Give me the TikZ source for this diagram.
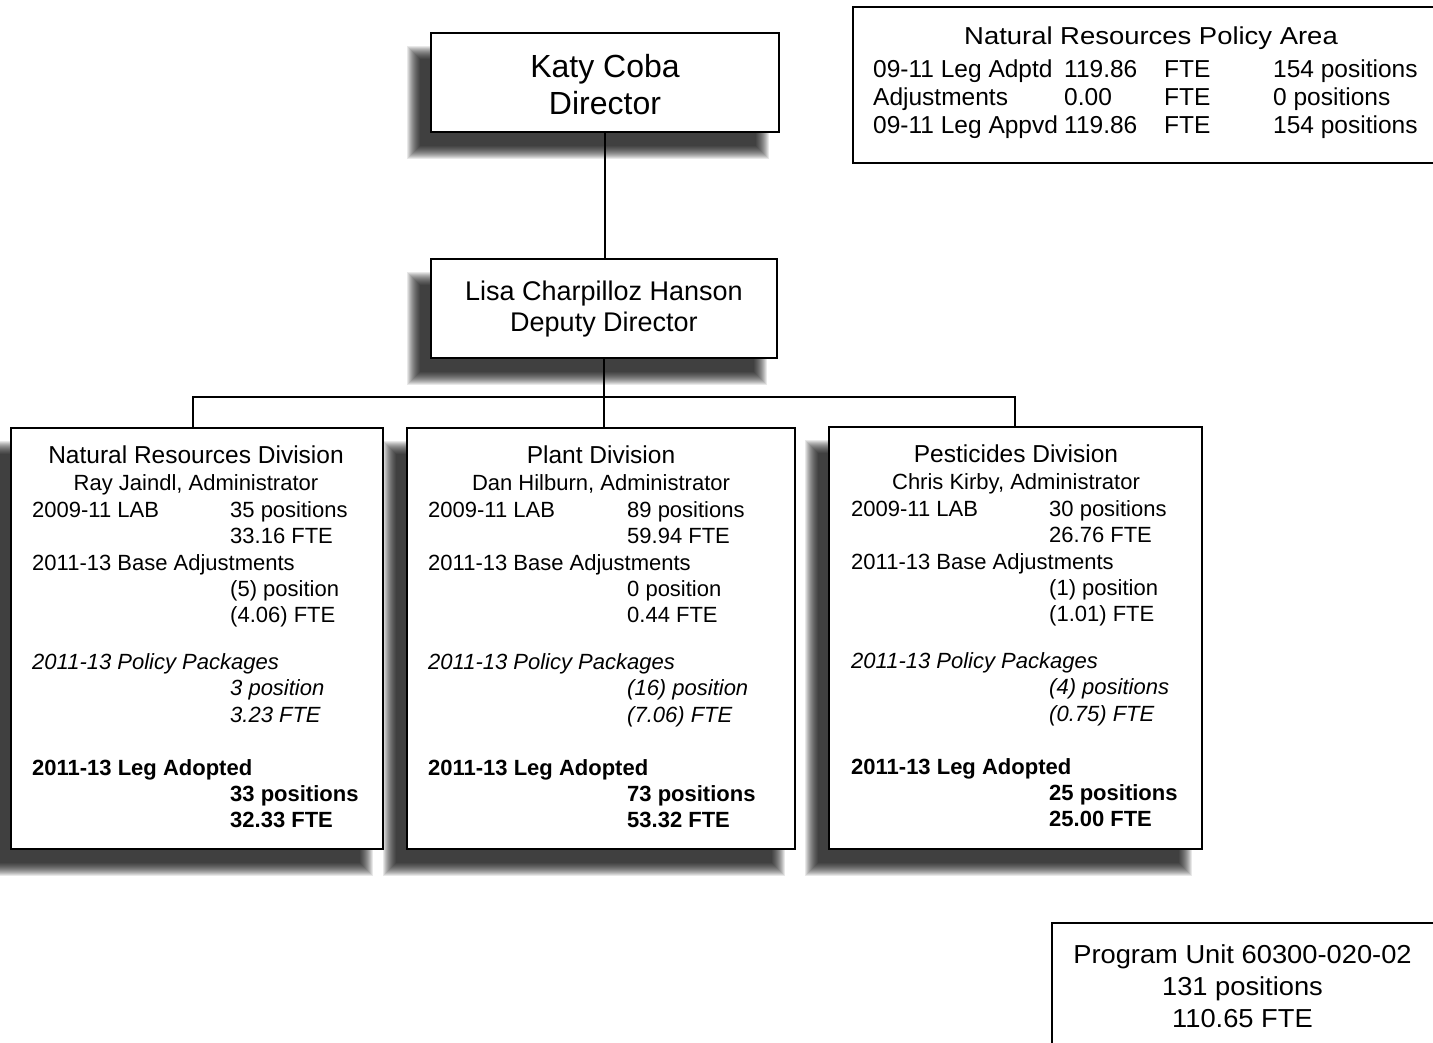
\documentclass[tikz,border=0pt]{standalone}
\usepackage{fontspec}
\setmainfont{Liberation Sans}
\usepackage{graphicx}
\newcommand\fsz[1]{\fontsize{#1pt}{#1pt}\selectfont}
\newcommand\hx[2]{\scalebox{#1}[1]{#2}}
\tikzset{
  orgbox/.style={draw=black, line width=1.8pt, fill=white, rectangle, inner sep=0pt},
  lt/.style={inner sep=0pt, anchor=base west, font=\fsz{22}},
  ct/.style={inner sep=0pt, anchor=base, font=\fsz{22}},
  wire/.style={line width=1.8pt, black},
}
\newcommand\shbox[5]{%
  \foreach \i in {0,...,13}{\fill[black,opacity=0.09] ({#2-24+\i},{#3+13+\i}) rectangle ({#4-10-\i},{#5+27-\i});}
  \node[orgbox, minimum width={(#4-#2)*1pt}, minimum height={(#5-#3)*1pt}] (#1) at ({(#2+#4)/2},{(#3+#5)/2}) {};
}
\begin{document}
\begin{tikzpicture}[x=1pt,y=-1pt]
\useasboundingbox (0,0) rectangle (1433,1042);
\clip (0,0) rectangle (1433,1042);
\fill[white] (0,0) rectangle (1433,1042);

\shbox{dir}{431}{33}{779}{132}
\shbox{dep}{431}{259}{777}{358}
\shbox{nrd}{11}{428}{383}{849}
\shbox{pla}{407}{428}{795}{849}
\shbox{pes}{829}{427}{1202}{849}

% Director
\node[ct, font=\fsz{32}] (dir1) at (605,77) {Katy Coba};
\node[ct, font=\fsz{32}] (dir2) at (605,114) {Director};
% Deputy
\node[ct, font=\fsz{27}] (dep1) at (604,300) {Lisa Charpilloz Hanson};
\node[ct, font=\fsz{27}] (dep2) at (604,331) {Deputy Director};

% connectors
\coordinate (jL) at (193,397);
\coordinate (jR) at (1015,397);
\draw[wire] (dir.south) -- (dir.south |- dep.north);
\draw[wire] (dep.south) -- (dep.south |- jL);
\draw[wire] (jL |- nrd.north) -- (jL) -- (jR) -- (jR |- pes.north);
\draw[wire] (dep.south |- jL) -- (dep.south |- pla.north);

% Natural Resources Division
\node[ct, font=\fsz{24.5}] (n0) at (196,463) {Natural Resources Division};
\node[ct] (n1) at (196,490) {Ray Jaindl, Administrator};
\node[lt] (n2) at (32,517) {2009-11 LAB};
\node[lt] (n3) at (230,517) {35 positions};
\node[lt] (n4) at (230,543) {33.16 FTE};
\node[lt] (n5) at (32,570) {2011-13 Base Adjustments};
\node[lt] (n6) at (230,596) {(5) position};
\node[lt] (n7) at (230,622) {(4.06) FTE};
\node[lt, font=\fsz{22}\itshape] (n8) at (32,669) {2011-13 Policy Packages};
\node[lt, font=\fsz{22}\itshape] (n9) at (230,695) {3 position};
\node[lt, font=\fsz{22}\itshape] (n10) at (230,722) {3.23 FTE};
\node[lt, font=\fsz{22}\bfseries] (n11) at (32,775) {2011-13 Leg Adopted};
\node[lt, font=\fsz{22}\bfseries] (n12) at (230,801) {33 positions};
\node[lt, font=\fsz{22}\bfseries] (n13) at (230,827) {32.33 FTE};

% Plant Division
\node[ct, font=\fsz{24.5}] (p0) at (601,463) {Plant Division};
\node[ct] (p1) at (601,490) {Dan Hilburn, Administrator};
\node[lt] (p2) at (428,517) {2009-11 LAB};
\node[lt] (p3) at (627,517) {89 positions};
\node[lt] (p4) at (627,543) {59.94 FTE};
\node[lt] (p5) at (428,570) {2011-13 Base Adjustments};
\node[lt] (p6) at (627,596) {0 position};
\node[lt] (p7) at (627,622) {0.44 FTE};
\node[lt, font=\fsz{22}\itshape] (p8) at (428,669) {2011-13 Policy Packages};
\node[lt, font=\fsz{22}\itshape] (p9) at (627,695) {(16) position};
\node[lt, font=\fsz{22}\itshape] (p10) at (627,722) {(7.06) FTE};
\node[lt, font=\fsz{22}\bfseries] (p11) at (428,775) {2011-13 Leg Adopted};
\node[lt, font=\fsz{22}\bfseries] (p12) at (627,801) {73 positions};
\node[lt, font=\fsz{22}\bfseries] (p13) at (627,827) {53.32 FTE};

% Pesticides Division
\node[ct, font=\fsz{24.5}] (s0) at (1016,462) {Pesticides Division};
\node[ct] (s1) at (1016,489) {Chris Kirby, Administrator};
\node[lt] (s2) at (851,516) {2009-11 LAB};
\node[lt] (s3) at (1049,516) {30 positions};
\node[lt] (s4) at (1049,542) {26.76 FTE};
\node[lt] (s5) at (851,569) {2011-13 Base Adjustments};
\node[lt] (s6) at (1049,595) {(1) position};
\node[lt] (s7) at (1049,621) {(1.01) FTE};
\node[lt, font=\fsz{22}\itshape] (s8) at (851,668) {2011-13 Policy Packages};
\node[lt, font=\fsz{22}\itshape] (s9) at (1049,694) {(4) positions};
\node[lt, font=\fsz{22}\itshape] (s10) at (1049,721) {(0.75) FTE};
\node[lt, font=\fsz{22}\bfseries] (s11) at (851,774) {2011-13 Leg Adopted};
\node[lt, font=\fsz{22}\bfseries] (s12) at (1049,800) {25 positions};
\node[lt, font=\fsz{22}\bfseries] (s13) at (1049,826) {25.00 FTE};

% Policy area box
\node[orgbox, minimum width=592pt, minimum height=156pt] (pol) at (1149,85) {};
\node[ct, font=\fsz{24.5}] (pol0) at (1151,44) {\hx{1.12}{Natural Resources Policy Area}};
\node[lt, font=\fsz{24.5}] (pol1a) at (873,77) {09-11 Leg Adptd};
\node[lt, font=\fsz{24.5}] (pol1b) at (1064,77) {119.86};
\node[lt, font=\fsz{24.5}] (pol1c) at (1164,77) {FTE};
\node[lt, font=\fsz{24.5}] (pol1d) at (1273,77) {154 positions};
\node[lt, font=\fsz{24.5}] (pol2a) at (873,105) {Adjustments};
\node[lt, font=\fsz{24.5}] (pol2b) at (1064,105) {0.00};
\node[lt, font=\fsz{24.5}] (pol2c) at (1164,105) {FTE};
\node[lt, font=\fsz{24.5}] (pol2d) at (1273,105) {0 positions};
\node[lt, font=\fsz{24.5}] (pol3a) at (873,133) {09-11 Leg Appvd};
\node[lt, font=\fsz{24.5}] (pol3b) at (1064,133) {119.86};
\node[lt, font=\fsz{24.5}] (pol3c) at (1164,133) {FTE};
\node[lt, font=\fsz{24.5}] (pol3d) at (1273,133) {154 positions};

% Program unit box
\node[orgbox, minimum width=393pt, minimum height=137pt] (pu) at (1248.5,991.5) {};
\node[ct, font=\fsz{26}] (pu1) at (1242.5,963) {\hx{1.05}{Program Unit 60300-020-02}};
\node[ct, font=\fsz{26}] (pu2) at (1242.5,995) {\hx{1.05}{131 positions}};
\node[ct, font=\fsz{26}] (pu3) at (1242.5,1027) {\hx{1.05}{110.65 FTE}};
\end{tikzpicture}
\end{document}
